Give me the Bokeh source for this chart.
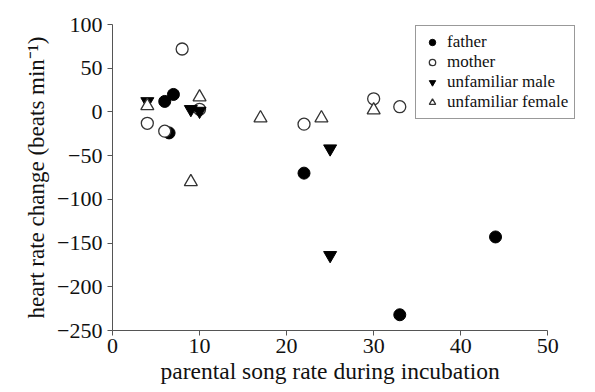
from bokeh.plotting import figure
from bokeh.models import FixedTicker, Legend, LegendItem, Title
from bokeh.embed import file_html
from bokeh.resources import INLINE

father_x = [6, 7, 6.5, 22, 33, 44]
father_y = [12, 20, -24, -70, -232, -143]
mother_x = [8, 4, 6, 10, 22, 30, 33]
mother_y = [72, -13, -22, 3, -14, 15, 6]
male_x = [4, 9, 10, 25, 25]
male_y = [12, 3, 1, -42, -164]
female_x = [4, 10, 9, 17, 24, 30]
female_y = [7, 17, -80, -7, -7, 2]

x_ticks = [0, 10, 20, 30, 40, 50]
y_ticks = [100, 50, 0, -50, -100, -150, -200, -250]
y_tick_labels = ["100", "50", "0", "\u221250", "\u2212100", "\u2212150", "\u2212200", "\u2212250"]

FONT = "Liberation Serif"

p = figure(width=587, height=384, x_range=(0, 54.45), y_range=(-250, 100),
           output_backend="svg", toolbar_location=None,
           min_border_left=112, min_border_right=1, min_border_top=24, min_border_bottom=54)
p.outline_line_color = None
p.xgrid.visible = False
p.ygrid.visible = False

r1 = p.scatter(father_x, father_y, marker="circle", size=12, fill_color="black", line_color="black")
r2 = p.scatter(mother_x, mother_y, marker="circle", size=12, fill_color="white", line_color="#333333", line_width=1.3)
r3 = p.scatter(male_x, male_y, marker="inverted_triangle", size=13, fill_color="black", line_color="black")
r4 = p.scatter(female_x, female_y, marker="triangle", size=13, fill_color="white", line_color="#333333", line_width=1.3)

for ax in (p.xaxis[0], p.yaxis[0]):
    ax.axis_line_color = "#555555"
    ax.major_tick_line_color = "#555555"
    ax.major_tick_in = 0
    ax.major_tick_out = 5
    ax.minor_tick_line_color = None
    ax.major_label_text_font = FONT
    ax.major_label_text_font_size = "22px"
    ax.major_label_text_color = "#111111"
    ax.axis_label_text_font = FONT
    ax.axis_label_text_font_style = "normal"
    ax.axis_label_text_color = "#111111"

p.yaxis.axis_label_text_font_size = "23px"
p.xaxis.bounds = (0, 50)
p.xaxis.ticker = FixedTicker(ticks=x_ticks)
p.yaxis.ticker = FixedTicker(ticks=y_ticks)
p.yaxis.major_label_overrides = {t: l for t, l in zip(y_ticks, y_tick_labels)}
p.yaxis.axis_label = "heart rate change (beats min\u207b\u00b9)"
p.xaxis.major_label_standoff = 3
p.yaxis.major_label_standoff = 5
p.yaxis.axis_label_standoff = 5

xtitle = Title(text="parental song rate during incubation", align="left", offset=48,
               text_font=FONT, text_font_size="23.5px", text_font_style="normal",
               text_color="#111111", standoff=0)
p.add_layout(xtitle, "below")

legend = Legend(items=[
    LegendItem(label="father", renderers=[r1]),
    LegendItem(label="mother", renderers=[r2]),
    LegendItem(label="unfamiliar male", renderers=[r3]),
    LegendItem(label="unfamiliar female", renderers=[r4]),
], location=(303, 211))
legend.label_text_font = FONT
legend.label_text_font_size = "17px"
legend.label_text_color = "#111111"
legend.label_height = 14
legend.glyph_height = 16
legend.glyph_width = 20
legend.spacing = 0
legend.padding = 6
legend.margin = 0
legend.label_standoff = 5
legend.border_line_color = "#333333"
legend.border_line_width = 1
legend.background_fill_alpha = 1
p.add_layout(legend, "center")

open("out.html", "w").write(file_html(p, INLINE))
